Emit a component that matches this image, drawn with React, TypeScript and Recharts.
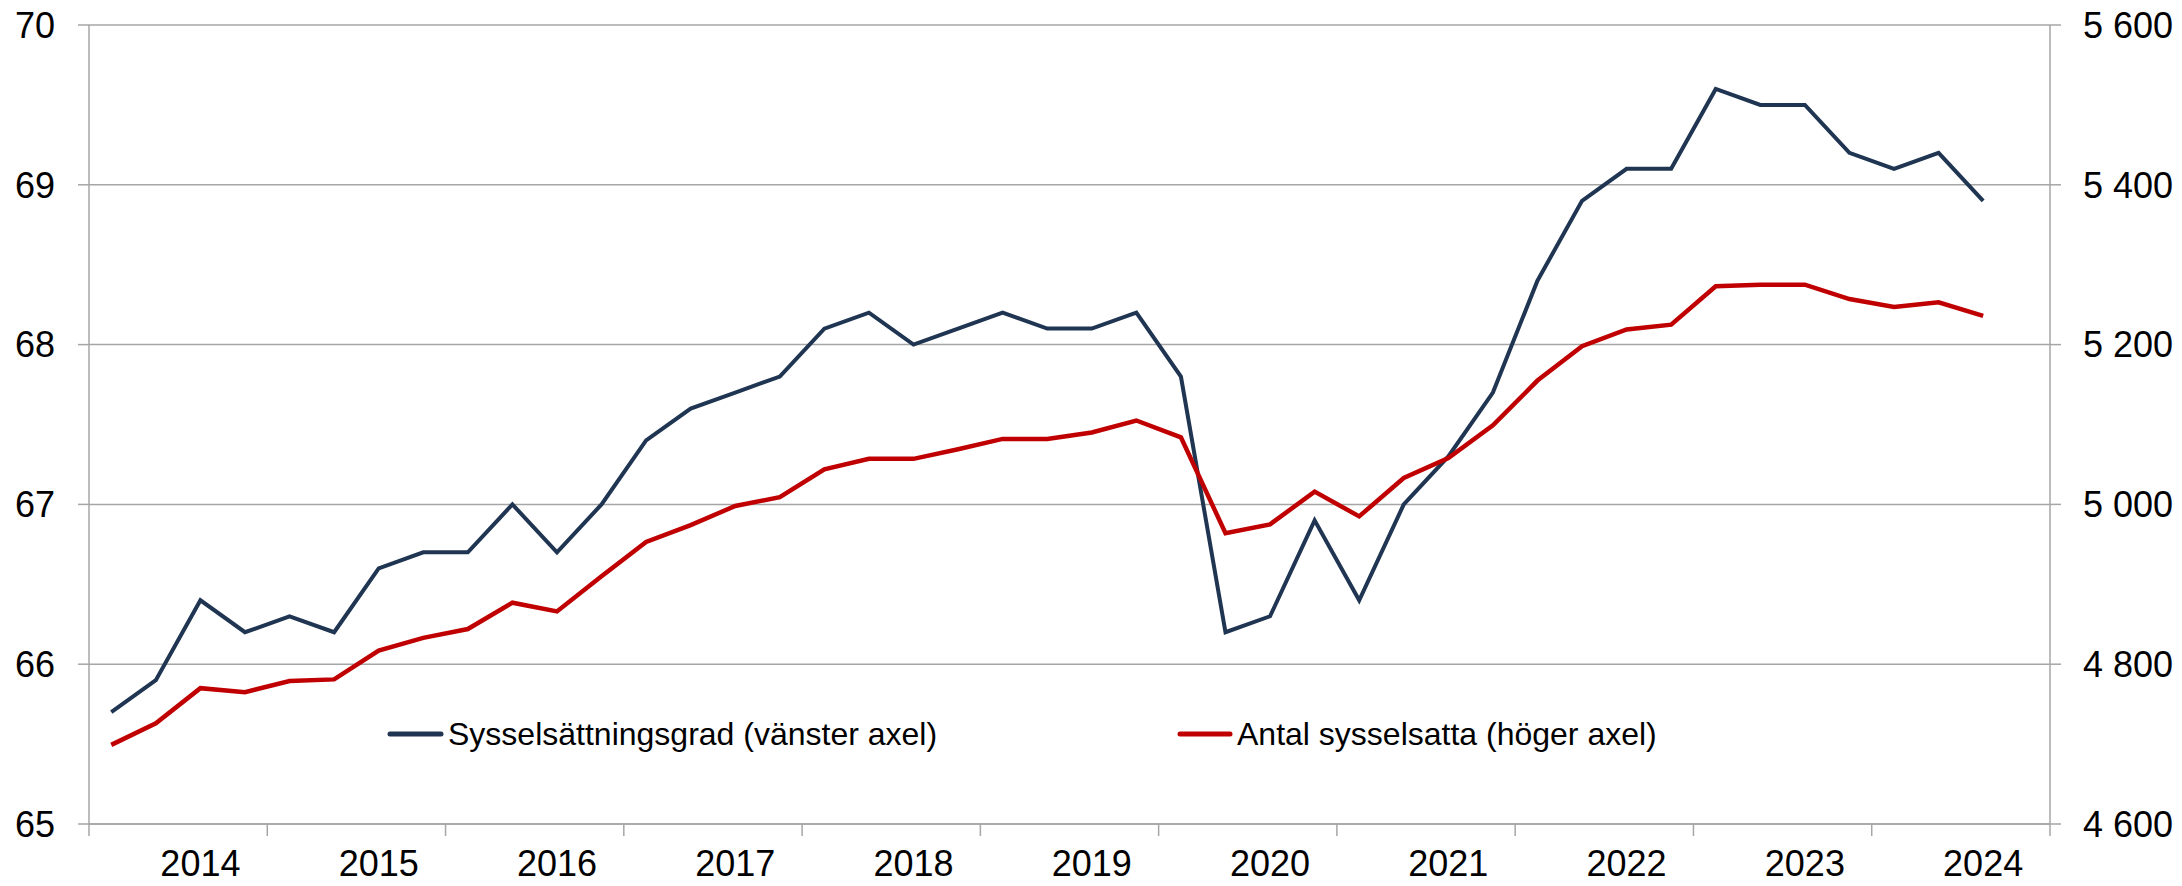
import React from "react";
import { LineChart, Line, XAxis, YAxis, CartesianGrid } from "recharts";

const quarters = [
  "2014 K1", "2014 K2", "2014 K3", "2014 K4",
  "2015 K1", "2015 K2", "2015 K3", "2015 K4",
  "2016 K1", "2016 K2", "2016 K3", "2016 K4",
  "2017 K1", "2017 K2", "2017 K3", "2017 K4",
  "2018 K1", "2018 K2", "2018 K3", "2018 K4",
  "2019 K1", "2019 K2", "2019 K3", "2019 K4",
  "2020 K1", "2020 K2", "2020 K3", "2020 K4",
  "2021 K1", "2021 K2", "2021 K3", "2021 K4",
  "2022 K1", "2022 K2", "2022 K3", "2022 K4",
  "2023 K1", "2023 K2", "2023 K3", "2023 K4",
  "2024 K1", "2024 K2", "2024 K3", "2024 K4",
];

// Sysselsättningsgrad, procent (vänster axel)
const rate = [
  65.7, 65.9, 66.4, 66.2,
  66.3, 66.2, 66.6, 66.7,
  66.7, 67.0, 66.7, 67.0,
  67.4, 67.6, 67.7, 67.8,
  68.1, 68.2, 68.0, 68.1,
  68.2, 68.1, 68.1, 68.2,
  67.8, 66.2, 66.3, 66.9,
  66.4, 67.0, 67.3, 67.7,
  68.4, 68.9, 69.1, 69.1,
  69.6, 69.5, 69.5, 69.2,
  69.1, 69.2, 68.9,
];

// Antal sysselsatta, tusental (höger axel)
const employed = [
  4699, 4726, 4770, 4765,
  4779, 4781, 4817, 4833,
  4844, 4877, 4866, 4910,
  4953, 4974, 4998, 5009,
  5044, 5057, 5057, 5069,
  5082, 5082, 5090, 5105,
  5084, 4964, 4975, 5016,
  4985, 5033, 5058, 5099,
  5155, 5198, 5219, 5225,
  5273, 5275, 5275, 5257,
  5247, 5253, 5236,
];

const leftTicks = [65, 66, 67, 68, 69, 70];
const rightTicks = [4600, 4800, 5000, 5200, 5400, 5600];

const W = 2182;
const H = 886;
const LEFT_W = 89;
const RIGHT_W = 132;
const X_H = 62;
const TOP = 25;
const BAND = (W - LEFT_W - RIGHT_W) / quarters.length;
const GRID = "#A6A6A6";
const FONT = "'Liberation Sans', Arial, sans-serif";

const data = quarters.map((q, i) => ({
  q,
  rate: i < rate.length ? rate[i] : null,
  employed: i < employed.length ? employed[i] : null,
}));

const fmtThousands = (v: number) =>
  `${Math.floor(v / 1000)} ${String(v % 1000).padStart(3, "0")}`;

function QuarterTick(props: any) {
  const { x, y, payload } = props;
  const i: number = payload.index ?? props.index;
  const label: string = payload.value;
  return (
    <g>
      {i % 4 === 0 && (
        <line x1={x - BAND / 2} x2={x - BAND / 2} y1={y} y2={y + 12} stroke={GRID} strokeWidth={1.5} />
      )}
      {i === quarters.length - 1 && (
        <line x1={x + BAND / 2} x2={x + BAND / 2} y1={y} y2={y + 12} stroke={GRID} strokeWidth={1.5} />
      )}
      {label.endsWith("K3") && (
        <text x={x} y={y + 52} textAnchor="middle" fontSize={36} fill="#000" fontFamily={FONT}>
          {label.slice(0, 4)}
        </text>
      )}
    </g>
  );
}

export default function App() {
  return (
    <div style={{ position: "absolute", left: 0, top: 0, width: W, height: H, background: "#fff", fontFamily: FONT }}>
      <LineChart width={W} height={H} data={data} margin={{ top: TOP, right: 0, bottom: 0, left: 0 }}>
        <CartesianGrid yAxisId="left" vertical={false} stroke={GRID} strokeWidth={1.5} />
        <XAxis
          dataKey="q"
          height={X_H}
          interval={0}
          padding={{ left: BAND / 2, right: BAND / 2 }}
          axisLine={{ stroke: GRID, strokeWidth: 1.5 }}
          tickLine={false}
          tickSize={0}
          tickMargin={0}
          tick={<QuarterTick />}
        />
        <YAxis
          yAxisId="left"
          width={LEFT_W}
          domain={[65, 70]}
          ticks={leftTicks}
          interval={0}
          axisLine={{ stroke: GRID, strokeWidth: 1.5 }}
          tickLine={{ stroke: GRID, strokeWidth: 1.5 }}
          tickSize={11}
          tickMargin={23}
          tick={{ fill: "#000", fontSize: 36, fontFamily: FONT }}
        />
        <YAxis
          yAxisId="right"
          orientation="right"
          width={RIGHT_W}
          domain={[4600, 5600]}
          ticks={rightTicks}
          interval={0}
          tickFormatter={fmtThousands}
          axisLine={{ stroke: GRID, strokeWidth: 1.5 }}
          tickLine={{ stroke: GRID, strokeWidth: 1.5 }}
          tickSize={11}
          tickMargin={22}
          tick={{ fill: "#000", fontSize: 36, fontFamily: FONT }}
        />
        <Line
          yAxisId="left"
          dataKey="rate"
          stroke="#1F3552"
          strokeWidth={4}
          dot={false}
          isAnimationActive={false}
        />
        <Line
          yAxisId="right"
          dataKey="employed"
          stroke="#C00000"
          strokeWidth={4.5}
          dot={false}
          isAnimationActive={false}
        />
      </LineChart>
      <svg width={W} height={H} style={{ position: "absolute", left: 0, top: 0, pointerEvents: "none" }}>
        <line x1={390} x2={441} y1={734} y2={734} stroke="#1F3552" strokeWidth={5} strokeLinecap="round" />
        <text x={448} y={745} fontSize={32} fill="#000" fontFamily={FONT}>
          Sysselsättningsgrad (vänster axel)
        </text>
        <line x1={1180} x2={1230} y1={734} y2={734} stroke="#C00000" strokeWidth={5} strokeLinecap="round" />
        <text x={1237} y={745} fontSize={32} fill="#000" fontFamily={FONT}>
          Antal sysselsatta (höger axel)
        </text>
      </svg>
    </div>
  );
}
